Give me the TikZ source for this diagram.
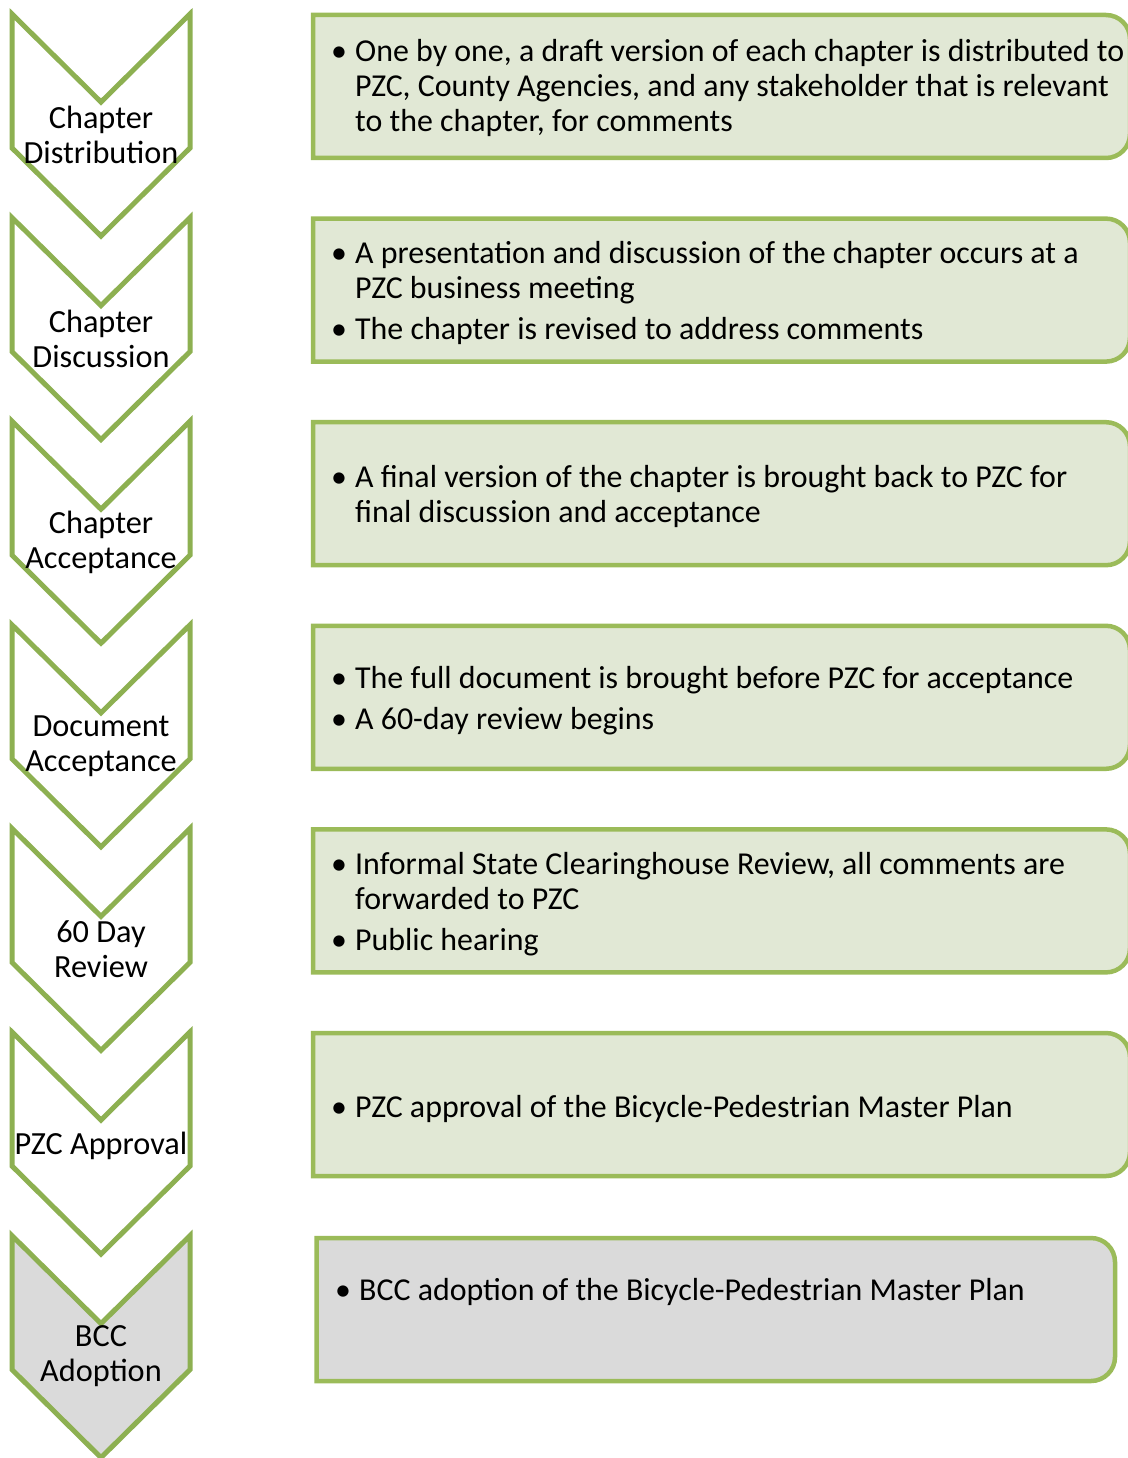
\documentclass[tikz,border=0pt]{standalone}
\usepackage{fontspec}
\setmainfont{Carlito}
\definecolor{chevgreen}{HTML}{8DB051}
\definecolor{boxgreen}{HTML}{9BBB59}
\definecolor{boxfill}{HTML}{E1E8D5}
\definecolor{grayfill}{HTML}{DADADA}
\tikzset{
  chev/.style={draw=chevgreen, line width=5pt, line join=miter, fill=white},
  chevgray/.style={chev, fill=grayfill},
  stepbox/.style={draw=boxgreen, line width=4.5pt, fill=boxfill},
  stepboxgray/.style={stepbox, fill=grayfill},
  lbl/.style={align=center, inner sep=0pt, font=\fontsize{32.3}{35}\selectfont},
  btxt/.style={anchor=west, inner sep=0pt, font=\fontsize{31.9}{35}\selectfont}
}
\newcommand{\chevpath}[2]{% #1 style, #2 top
  \path[#1] (12,#2) -- (101,#2+88) -- (190,#2) -- (190,#2+134) -- (101,#2+222) -- (12,#2+134) -- cycle;}
\newcommand{\boxpath}[5]{% #1 style, #2 left, #3 right, #4 top, #5 bottom
  \path[#1] (#2,#4) -- (#3-24,#4) arc[start angle=-90, end angle=0, radius=24]
    -- (#3,#5-24) arc[start angle=0, end angle=90, radius=24] -- (#2,#5) -- cycle;}
\newenvironment{blist}{\begin{tabular}{@{}p{24pt}@{}l@{}}}{\end{tabular}}
\begin{document}
\begin{tikzpicture}[x=1pt, y=-1pt]
\useasboundingbox (0,0) rectangle (1127,1458);
% boxes
\boxpath{stepbox}{313}{1130}{15}{158}
\boxpath{stepbox}{313}{1130}{218.6}{361.6}
\boxpath{stepbox}{313}{1130}{422.2}{565.2}
\boxpath{stepbox}{313}{1130}{625.8}{768.8}
\boxpath{stepbox}{313}{1130}{829.4}{972.4}
\boxpath{stepbox}{313}{1130}{1033}{1176}
\boxpath{stepboxgray}{316.5}{1115}{1238}{1381}
% chevrons
\chevpath{chev}{14}
\chevpath{chev}{217.6}
\chevpath{chev}{421.2}
\chevpath{chev}{624.8}
\chevpath{chev}{828.4}
\chevpath{chev}{1032}
\chevpath{chevgray}{1235.6}
% chevron labels
\node[lbl] (c1) at (101,135) {Chapter\\Distribution};
\node[lbl] (c2) at (101,338.6) {Chapter\\Discussion};
\node[lbl] (c3) at (101,542.2) {Chapter\\Acceptance};
\node[lbl] (c4) at (101,745.8) {Document\\Acceptance};
\node[lbl] (c5) at (101,949.4) {60 Day\\Review};
\node[lbl] (c6) at (101,1146) {PZC Approval};
\node[lbl] (c7) at (101,1356.6) {BCC\\Adoption};
% box texts
\node[btxt] (t1) at (331,90) {\begin{blist}
\textbullet & One by one, a draft version of each chapter is distributed to\\
 & PZC, County Agencies, and any stakeholder that is relevant\\
 & to the chapter, for comments
\end{blist}};
\node[btxt] (t2) at (331,294) {\begin{blist}
\textbullet & A presentation and discussion of the chapter occurs at a\\
 & PZC business meeting\\[6pt]
\textbullet & The chapter is revised to address comments
\end{blist}};
\node[btxt] (t3) at (331,498) {\begin{blist}
\textbullet & A final version of the chapter is brought back to PZC for\\
 & final discussion and acceptance
\end{blist}};
\node[btxt] (t4) at (331,702) {\begin{blist}
\textbullet & The full document is brought before PZC for acceptance\\[6pt]
\textbullet & A 60-day review begins
\end{blist}};
\node[btxt] (t5) at (331,905) {\begin{blist}
\textbullet & Informal State Clearinghouse Review, all comments are\\
 & forwarded to PZC\\[6pt]
\textbullet & Public hearing
\end{blist}};
\node[btxt] (t6) at (331,1110) {\begin{blist}
\textbullet & PZC approval of the Bicycle-Pedestrian Master Plan
\end{blist}};
\node[btxt] (t7) at (335,1293) {\begin{blist}
\textbullet & BCC adoption of the Bicycle-Pedestrian Master Plan
\end{blist}};
\end{tikzpicture}
\end{document}
